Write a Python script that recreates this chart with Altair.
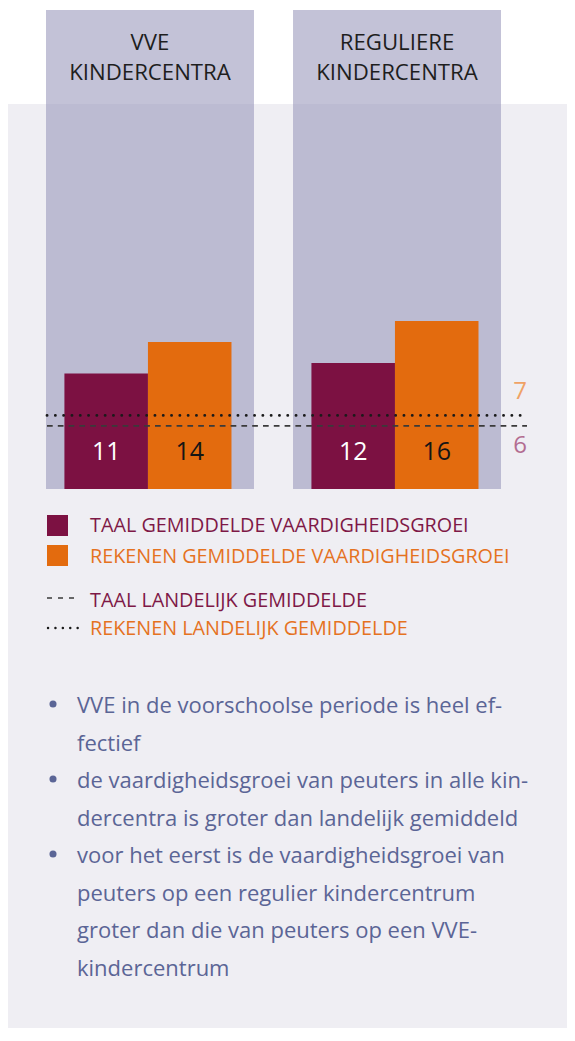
import altair as alt
import pandas as pd

# ---------------- data ----------------
GROUPS = ["VVE", "REGULIERE"]
GROUP_TITLES = [["VVE", "KINDERCENTRA"], ["REGULIERE", "KINDERCENTRA"]]
SERIES = ["TAAL", "REKENEN"]
TAAL_VALUES = [11, 12]
REKENEN_VALUES = [14, 16]
NAT_SERIES = ["TAAL", "REKENEN"]
NAT_VALUES = [6, 7]
LEGEND_LABELS = [
    "TAAL GEMIDDELDE VAARDIGHEIDSGROEI",
    "REKENEN GEMIDDELDE VAARDIGHEIDSGROEI",
    "TAAL LANDELIJK GEMIDDELDE",
    "REKENEN LANDELIJK GEMIDDELDE",
]
BULLETS = [
    ["VVE in de voorschoolse periode is heel ef-", "fectief"],
    ["de vaardigheidsgroei van peuters in alle kin-",
     "dercentra is groter dan landelijk gemiddeld"],
    ["voor het eerst is de vaardigheidsgroei van",
     "peuters op een regulier kindercentrum",
     "groter dan die van peuters op een VVE-",
     "kindercentrum"],
]
Y_TOP = 45.6  # value at the top of the grey columns

# ---------------- styling ----------------
FONT = "Open Sans"
FW = 400
C_TAAL = "#7C1142"
C_REK = "#E36B0E"
C_TAAL_TXT = "#7E1846"
C_REK_TXT = "#E5721F"
C_BODY = "#5B6596"
C_PANEL = "#EFEEF3"
C_COL = "#9492B8"

W, H = 559, 1020

bars = pd.DataFrame({
    "group": GROUPS * 2,
    "series": [SERIES[0]] * 2 + [SERIES[1]] * 2,
    "value": TAAL_VALUES + REKENEN_VALUES,
})
groups_df = pd.DataFrame({"group": GROUPS, "title": GROUP_TITLES})
nat = pd.DataFrame({"series": NAT_SERIES, "value": NAT_VALUES})

x_group = alt.X("group:N", sort=GROUPS, axis=None,
                scale=alt.Scale(domain=GROUPS, range=[38, 493],
                                paddingInner=0.158, paddingOuter=0))
y_scale = alt.Scale(domain=[0, Y_TOP], range=[481, 2], nice=False, zero=True)

one = alt.Data(values=[{"k": 0}])

panel = alt.Chart(one).mark_rect(color=C_PANEL).encode(
    x=alt.value(0), x2=alt.value(W), y=alt.value(96), y2=alt.value(H)
)

columns = alt.Chart(groups_df).mark_bar(color=C_COL, opacity=0.56).encode(
    x=x_group,
    y=alt.YDatum(Y_TOP, type="quantitative", scale=y_scale, axis=None),
    y2=alt.Y2Datum(0),
)

titles = alt.Chart(groups_df).mark_text(
    font=FONT, fontSize=22.2, fontWeight=FW, color="#1E1E1E",
    baseline="alphabetic", lineHeight=30, align="center"
).encode(x=x_group, y=alt.value(42), text="title")

bar_layer = alt.Chart(bars).mark_bar().encode(
    x=x_group,
    xOffset=alt.XOffset("series:N", sort=SERIES,
                        scale=alt.Scale(domain=SERIES, paddingInner=0,
                                        paddingOuter=0.245, align=0.45)),
    y=alt.Y("value:Q", scale=y_scale, axis=None),
    color=alt.Color("series:N", scale=alt.Scale(domain=SERIES, range=[C_TAAL, C_REK]),
                    legend=None),
)

bar_labels = alt.Chart(bars).mark_text(
    font=FONT, fontSize=25, fontWeight=FW, baseline="alphabetic", dy=-29
).encode(
    x=x_group,
    xOffset=alt.XOffset("series:N", sort=SERIES),
    y=alt.YDatum(0, type="quantitative"),
    text="value:Q",
    color=alt.condition(alt.datum.series == "TAAL", alt.value("#FFFFFF"), alt.value("#151515")),
)

dashed = alt.Chart(nat).transform_filter(alt.datum.series == "TAAL").mark_rule(
    color="#3A3A3A", strokeWidth=1.8, strokeDash=[5.7, 5.1]
).encode(y=alt.Y("value:Q"), x=alt.value(39), x2=alt.value(519))

dotted = alt.Chart(nat).transform_filter(alt.datum.series == "REKENEN").mark_rule(
    color="#1A1A1A", strokeWidth=2.8, strokeDash=[0.1, 8.2], strokeCap="round"
).encode(y=alt.Y("value:Q"), x=alt.value(39), x2=alt.value(519))

lab7 = alt.Chart(nat).transform_filter(alt.datum.series == "REKENEN").mark_text(
    font=FONT, fontSize=24, fontWeight=FW, color="#EFA265", baseline="middle", dy=-23
).encode(y=alt.Y("value:Q"), x=alt.value(512), text="value:Q")

lab6 = alt.Chart(nat).transform_filter(alt.datum.series == "TAAL").mark_text(
    font=FONT, fontSize=24, fontWeight=FW, color="#B36D91", baseline="middle", dy=20
).encode(y=alt.Y("value:Q"), x=alt.value(512), text="value:Q")

# ---------------- legend ----------------
leg_sq_taal = alt.Chart(one).mark_square(size=441, color=C_TAAL, opacity=1).encode(
    x=alt.value(49.5), y=alt.value(517.5))
leg_sq_rek = alt.Chart(one).mark_square(size=441, color=C_REK, opacity=1).encode(
    x=alt.value(49.5), y=alt.value(547.5))
leg_dash = alt.Chart(one).mark_rule(color="#3A3A3A", strokeWidth=1.6, strokeDash=[5, 6]).encode(
    x=alt.value(39), x2=alt.value(72), y=alt.value(590))
leg_dot = alt.Chart(one).mark_rule(color="#1A1A1A", strokeWidth=2.4, strokeDash=[0.1, 7.3],
                                   strokeCap="round").encode(
    x=alt.value(40), x2=alt.value(71), y=alt.value(620))

leg_texts = []
for label, yb, col in zip(LEGEND_LABELS, [524, 555, 599, 627],
                          [C_TAAL_TXT, C_REK_TXT, C_TAAL_TXT, C_REK_TXT]):
    leg_texts.append(
        alt.Chart(one).mark_text(font=FONT, fontSize=19.8, fontWeight=FW, color=col,
                                 align="left", baseline="alphabetic", text=label)
        .encode(x=alt.value(82), y=alt.value(yb))
    )

# ---------------- bullets ----------------
body = []
for lines, yb in zip(BULLETS, [705, 780, 855]):
    body.append(
        alt.Chart(one).mark_circle(size=50, color=C_BODY, opacity=1).encode(
            x=alt.value(45), y=alt.value(yb - 9))
    )
    body.append(
        alt.Chart(one).mark_text(font=FONT, fontSize=22.0, fontWeight=FW, color=C_BODY,
                                 align="left", baseline="alphabetic", lineHeight=37.5,
                                 text=lines)
        .encode(x=alt.value(69), y=alt.value(yb))
    )

chart = alt.layer(
    panel, columns, titles, bar_layer, bar_labels, dashed, dotted, lab7, lab6,
    leg_sq_taal, leg_sq_rek, leg_dash, leg_dot, *leg_texts, *body
).properties(
    width=W, height=H, autosize=alt.AutoSizeParams(type="none"), padding=0,
    background="#FFFFFF"
).configure_view(stroke=None)

chart.save("out.html", embed_options={"renderer": "svg", "actions": False})
